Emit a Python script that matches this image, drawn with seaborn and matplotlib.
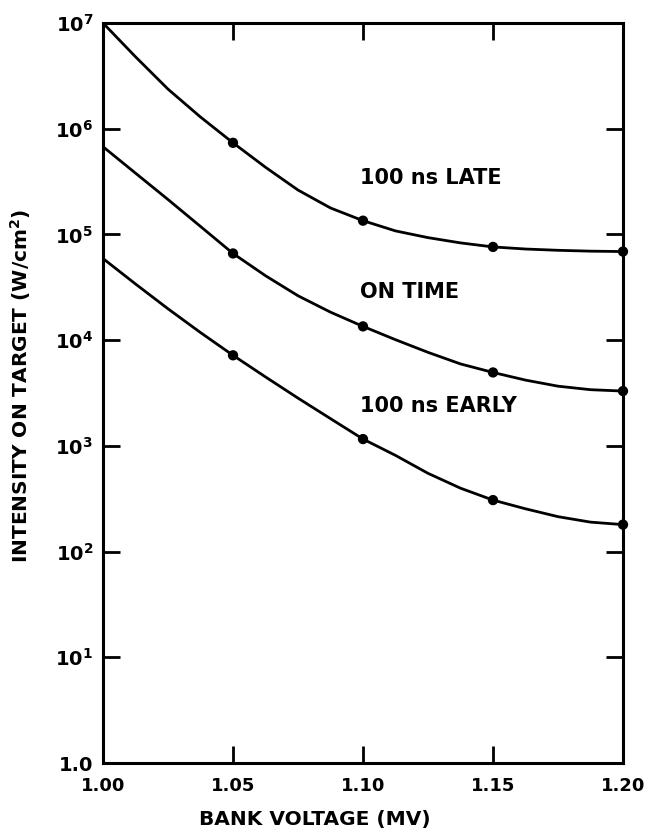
import numpy as np
import pandas as pd
import matplotlib
matplotlib.use("Agg")
import matplotlib.pyplot as plt
import seaborn as sns
from matplotlib.ticker import FixedLocator, NullLocator

# Curve readings: bank voltage (MV) vs intensity on target (W/cm^2)
curve_x = [1.000, 1.0125, 1.025, 1.0375, 1.050, 1.0625, 1.075, 1.0875, 1.100,
           1.1125, 1.125, 1.1375, 1.150, 1.1625, 1.175, 1.1875, 1.200]
late_curve = [1.0e7, 4.79e6, 2.37e6, 1.29e6, 7.36e5, 4.32e5, 2.63e5, 1.78e5, 1.35e5,
              1.08e5, 9.33e4, 8.32e4, 7.62e4, 7.28e4, 7.08e4, 6.95e4, 6.89e4]
ontime_curve = [6.76e5, 3.80e5, 2.14e5, 1.19e5, 6.61e4, 4.07e4, 2.63e4, 1.84e4, 1.35e4,
                1.01e4, 7.67e3, 5.96e3, 4.95e3, 4.19e3, 3.67e3, 3.40e3, 3.30e3]
early_curve = [5.92e4, 3.40e4, 1.98e4, 1.18e4, 7.19e3, 4.49e3, 2.83e3, 1.81e3, 1.16e3,
               813, 550, 398, 307, 254, 214, 190, 180]

# Measured points (dots)
point_x = [1.05, 1.10, 1.15, 1.20]
late_pts = [7.36e5, 1.35e5, 7.62e4, 6.89e4]
ontime_pts = [6.61e4, 1.35e4, 4.95e3, 3.30e3]
early_pts = [7.19e3, 1.16e3, 307, 180]

series_names = ["100 ns LATE", "ON TIME", "100 ns EARLY"]
label_pos = [(1.0988, 10**5.53), (1.0988, 10**4.46), (1.0988, 10**3.38)]

x_ticks = [1.00, 1.05, 1.10, 1.15, 1.20]
x_ticklabels = ["1.00", "1.05", "1.10", "1.15", "1.20"]
y_ticks = [1, 10, 1e2, 1e3, 1e4, 1e5, 1e6, 1e7]
y_ticklabels = ["1.0", r"$10^{1}$", r"$10^{2}$", r"$10^{3}$", r"$10^{4}$",
                r"$10^{5}$", r"$10^{6}$", r"$10^{7}$"]

sns.set_style("ticks")
plt.rcParams['font.family'] = ['DejaVu Sans']
plt.rcParams['mathtext.default'] = 'bf'
plt.rcParams['xtick.direction'] = 'in'
plt.rcParams['ytick.direction'] = 'in'
plt.rcParams['text.color'] = 'black'
plt.rcParams['axes.labelcolor'] = 'black'
plt.rcParams['xtick.color'] = 'black'
plt.rcParams['ytick.color'] = 'black'

curves = pd.DataFrame({
    'voltage': curve_x * 3,
    'intensity': late_curve + ontime_curve + early_curve,
    'timing': [n for n in series_names for _ in curve_x],
})
points = pd.DataFrame({
    'voltage': point_x * 3,
    'intensity': late_pts + ontime_pts + early_pts,
    'timing': [n for n in series_names for _ in point_x],
})

fig = plt.figure(figsize=(6.54, 8.31), dpi=100)
ax = fig.add_axes([0.1575, 0.0818, 0.7951, 0.8905])

pal = {n: 'black' for n in series_names}
sns.lineplot(data=curves, x='voltage', y='intensity', hue='timing', palette=pal,
             lw=2.0, legend=False, ax=ax, solid_joinstyle='round', solid_capstyle='round')
sns.scatterplot(data=points, x='voltage', y='intensity', hue='timing', palette=pal,
                s=55, edgecolor='none', legend=False, ax=ax, zorder=5, clip_on=False)

ax.set_yscale('log')
ax.set_xlim(1.0, 1.2)
ax.set_ylim(1, 1e7)

ax.xaxis.set_major_locator(FixedLocator(x_ticks))
ax.set_xticklabels(x_ticklabels, fontsize=13, fontweight='bold')
ax.yaxis.set_major_locator(FixedLocator(y_ticks))
ax.yaxis.set_minor_locator(NullLocator())
ax.set_yticklabels(y_ticklabels, fontsize=14, fontweight='bold')

for side in ['top', 'bottom', 'left', 'right']:
    ax.spines[side].set_visible(True)
    ax.spines[side].set_linewidth(2.2)
    ax.spines[side].set_color('black')

for name, (lx, ly) in zip(series_names, label_pos):
    ax.text(lx, ly, name, fontsize=15, fontweight='bold', ha='left', va='center')

ax.set_xlabel('BANK VOLTAGE (MV)', fontsize=14.5, fontweight='bold')
ax.xaxis.set_label_coords(0.408, -0.063)
ax.set_ylabel(r'INTENSITY ON TARGET (W/cm$^{2}$)', fontsize=14.5, fontweight='bold')
ax.yaxis.set_label_coords(-0.135, 0.51)

# inward ticks on all four sides
ax.xaxis.set_tick_params(which='major', direction='in', length=12.5, width=2,
                         top=True, bottom=True, pad=10, color='black')
ax.yaxis.set_tick_params(which='major', direction='in', length=12.5, width=2,
                         left=True, right=True, pad=7, color='black')

fig.savefig('out.png', dpi=100)
plt.close(fig)
